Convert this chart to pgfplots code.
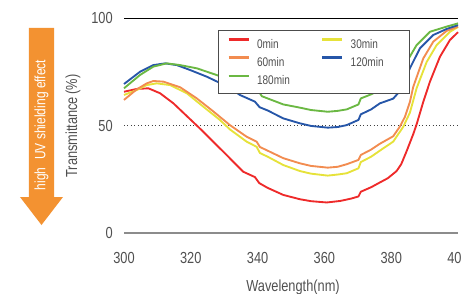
\documentclass[border=0pt]{standalone}
\usepackage{fontspec}
\setmainfont{Liberation Sans}[FakeStretch=0.8]
\usepackage{pgfplots}
\pgfplotsset{compat=1.18}
\definecolor{cred}{HTML}{EE2A2A}
\definecolor{corange}{HTML}{F28C50}
\definecolor{cyellow}{HTML}{E6E23A}
\definecolor{cblue}{HTML}{2656A8}
\definecolor{cgreen}{HTML}{6BB843}
\definecolor{arroworange}{HTML}{F39231}
\definecolor{txtgray}{HTML}{505050}
\begin{document}
\begin{tikzpicture}
\begin{axis}[
  scale only axis, width=250.5pt, height=161.25pt,
  xmin=300, xmax=400, ymin=0, ymax=100,
  axis line style={draw=none},
  major tick length=0pt,
  xtick={300,320,340,360,380,400}, ytick={0,50,100},
  /pgf/number format/assume math mode=true,
  tick label style={font=\fontsize{12}{14}\selectfont, text=txtgray},
  yticklabel style={anchor=east, inner sep=0pt, xshift=-8.25pt},
  xticklabel style={anchor=north, inner sep=0pt, yshift=-14.25pt},
  clip=false,
  legend columns=2,
  legend style={at={(0.2814,0.9442)}, anchor=north west, draw=black!70, line width=0.6pt,
    fill=white, inner xsep=6.75pt, inner ysep=6pt, column sep=5.25pt, row sep=5.8pt,
    font=\fontsize{9.4}{11}\selectfont, text=txtgray,
    nodes={inner sep=0pt, text height=6.75pt, text depth=0pt}},
  legend image code/.code={\draw[#1, line width=2pt] (0pt,3.4pt) -- (15pt,3.4pt);},
  every axis plot/.append style={line width=1.4pt, line join=round},
]
\draw[black, line width=0.75pt] (axis cs:300,100) -- (axis cs:400,100);
\draw[black!75, line width=0.6pt, dotted] (axis cs:300,50) -- (axis cs:400,50);
\draw[black!45, line width=1.8pt] (axis cs:300,0) -- (axis cs:400,0);
\coordinate (SW) at (axis cs:300,0);
\coordinate (NE) at (axis cs:400,100);
\coordinate (XL) at (axis cs:350.6,0);

\addplot[cred] coordinates {
(300,65.7) (303.8,67) (307.3,67.3) (310.8,65) (314.8,60.3) (318.8,54.4) (322.8,48.5)
(326.7,42.5) (330.7,36.3) (335.7,28.5) (339.2,26) (340.5,23.2) (343,21) (347.7,17.7)
(352.7,15.7) (356,14.8) (360.7,14.2) (364.7,14.9) (368,16) (370.2,17) (370.9,19.2)
(374,21.3) (376.6,23.5) (379,25.5) (381.6,28.8) (383,32) (384.6,38) (386.6,46)
(387.6,50.5) (389.6,61) (391.6,70.4) (394.6,82) (397.6,89.8) (400,93.4)};
\addlegendentry{\makebox[42.75pt][l]{0min}}

\addplot[cyellow] coordinates {
(300,64.2) (303.8,66.5) (306.8,68.8) (309.8,69.6) (313.8,68.8) (318.8,65) (323.7,58.8)
(328.7,52.6) (331.7,48.2) (336.7,42.5) (339.7,40.1) (340.7,37.2) (343,35.5) (347.7,31.6)
(352.7,28.8) (356,27.6) (361,26.7) (364,27.2) (366.7,27.8) (370.2,30.1) (370.9,33)
(374,35.5) (376.6,38.3) (380.6,42.5) (383.6,49.4) (385.6,56) (387.6,67.3) (390.6,79.5)
(393.6,87.4) (397.6,93.6) (400,95.8)};
\addlegendentry{\makebox[37.5pt][l]{30min}}

\addplot[corange] coordinates {
(300,61.9) (303.8,66.8) (306.8,69.6) (308.8,70.7) (311.8,70.4) (316.8,67.8) (321.8,62.6)
(326.7,56.6) (331.7,50.2) (336.7,44.8) (339.7,42.5) (340.7,40) (343,38.3) (347.7,34.8)
(352.7,32.4) (356,31.2) (361,30.4) (364,30.8) (366.7,32) (370.2,34) (370.9,36.3)
(374,38.8) (376.6,41.5) (380.6,45) (382.6,49.5) (384.1,54) (385.6,61) (386.6,68)
(389.6,81.2) (392.6,89) (396.6,94) (400,96)};
\addlegendentry{\makebox[42.75pt][l]{60min}}

\addplot[cblue] coordinates {
(300,69.3) (304.8,75) (308.8,78.1) (312.3,78.9) (315.8,78.1) (319.8,75.8) (324.8,72.7)
(328.7,69.8) (331.7,67.5) (334.7,64.2) (339.2,61.1) (340.6,58.5) (343,57) (347.7,53.3)
(352.7,51) (356,49.8) (361,49) (364,49.3) (366.7,50.2) (370.2,52.6) (370.9,55.2)
(374,57.5) (376.6,60.3) (380.6,62.5) (382.6,66) (385.6,76.6) (388.6,85.9) (392.6,92.1)
(396.6,94.9) (400,96.7)};
\addlegendentry{\makebox[37.5pt][l]{120min}}

\addplot[cgreen] coordinates {
(300,67.3) (304.8,73.5) (308.8,77.4) (312.8,78.9) (316.8,78.1) (321.8,76.6) (327.7,73.5)
(332,71) (337.7,67) (340.7,65) (341.3,63.6) (344,62) (347.7,59.8) (352.7,58.3)
(356,57.2) (361,56.4) (364,56.8) (366.7,57.5) (370.2,59.8) (370.9,62.6) (374,64.5)
(376.6,66.5) (380.6,70) (384.1,78.1) (387.6,87.4) (391.6,93.6) (396.6,96) (400,97.5)};
\addlegendentry{\makebox[42.75pt][l]{180min}}
\end{axis}

\fill[arroworange, shift={(SW)}] (-71.25pt,153.75pt) -- (-52.5pt,153.75pt) -- (-52.5pt,27pt)
  -- (-45.75pt,27pt) -- (-61.875pt,6pt) -- (-78pt,27pt) -- (-71.25pt,27pt) -- cycle;
\node[rotate=90, text=white, font=\fontsize{11.25}{13}\selectfont, inner sep=0pt]
  at ([shift={(-61.9pt,81pt)}]SW) {high\hspace{0.3em} UV shielding effect};
\node[rotate=90, text=txtgray, font=\fontsize{12}{14}\selectfont, inner sep=0pt]
  at ([shift={(-38.25pt,80.25pt)}]SW) {Transmittance\,(\%)};
\node[anchor=base, text=txtgray, font=\fontsize{12}{14}\selectfont, inner sep=0pt]
  at ([yshift=-43.5pt]XL) {Wavelength(nm)};

\pgfresetboundingbox
\path[use as bounding box] ([shift={(-93pt,-45pt)}]SW) rectangle ([shift={(3pt,13.5pt)}]NE);
\end{tikzpicture}
\end{document}
